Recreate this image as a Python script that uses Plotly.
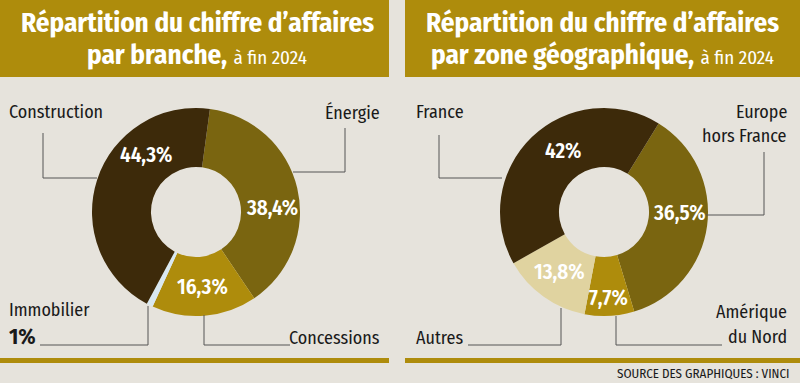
import math
import plotly.graph_objects as go

# ---- data ----
branch_labels = ["Énergie", "Concessions", "Immobilier", "Construction"]
branch_values = [38.4, 16.3, 1.0, 44.3]
branch_colors = ["#7a6510", "#ae8c0c", "#d9e8f0", "#3d2a0a"]

zone_labels = ["Europe hors France", "Amérique du Nord", "Autres", "France"]
zone_values = [36.5, 7.7, 13.8, 42.0]
zone_colors = ["#7a6510", "#ae8c0c", "#e0d3a0", "#3d2a0a"]

title_left = ("Répartition du chiffre d’affaires", "par branche,", "à fin 2024")
title_right = ("Répartition du chiffre d’affaires", "par zone géographique,", "à fin 2024")
source = "SOURCE DES GRAPHIQUES : VINCI"

FONT = "Fira Sans Condensed, PT Sans Narrow, Roboto Condensed, Asap Condensed, Sofia Sans Condensed, sans-serif"
W, H = 800, 383
BG = "#e6e3dc"
GOLD = "#ae8c0c"
R, HOLE = 104, 0.433


def fmt(v):
    return f"{v:g}".replace(".", ",") + "%"


fig = go.Figure()
ann = []


def add_donut(labels, values, colors, cx, cy, rotation, nudges, radii, hide_small=5):
    fig.add_trace(go.Pie(
        labels=labels, values=values, textinfo="none",
        marker=dict(colors=colors, line=dict(width=0)),
        hole=HOLE, sort=False, direction="clockwise", rotation=rotation,
        domain=dict(x=[(cx - R) / W, (cx + R) / W], y=[1 - (cy + R) / H, 1 - (cy - R) / H]),
        showlegend=False, hoverinfo="label+percent",
    ))
    total = sum(values)
    start = rotation
    for v, dn, rr in zip(values, nudges, radii):
        sweep = 360 * v / total
        mid = math.radians(start + sweep / 2 + dn)
        start += sweep
        if v < hide_small:
            continue
        x = cx + rr * math.sin(mid)
        y = cy - rr * math.cos(mid)
        ann.append(dict(x=x / W, y=1 - y / H, xref="paper", yref="paper", text=fmt(v),
                        showarrow=False, xanchor="center", yanchor="middle",
                        font=dict(family=FONT, size=21, color="white", weight=600)))


add_donut(branch_labels, branch_values, branch_colors, 196, 212, 7.7,
          nudges=[10, 0, 0, 31], radii=[76, 75, 75, 75])
add_donut(zone_labels, zone_values, zone_colors, 604, 212, 31.7,
          nudges=[-7, 0, 1, 10], radii=[76, 86, 75, 74])

shapes = []
# title bars and bottom rules
for x0, x1 in [(0, 389), (405, 800)]:
    shapes.append(dict(type="rect", xref="paper", yref="paper", x0=x0 / W, x1=x1 / W,
                       y0=1 - 77 / H, y1=1, fillcolor=GOLD, line=dict(width=0), layer="below"))
    shapes.append(dict(type="rect", xref="paper", yref="paper", x0=x0 / W, x1=x1 / W,
                       y0=1 - 363 / H, y1=1 - 358 / H, fillcolor=GOLD, line=dict(width=0)))

# leader lines (pixel polylines)
leaders = [
    [(43, 133), (43, 178), (97, 178)],          # Construction
    [(345, 128), (345, 172), (293, 172)],       # Énergie
    [(40, 345), (148, 345), (148, 306)],        # Immobilier
    [(290, 345), (204, 345), (204, 315)],       # Concessions
    [(439, 135), (439, 178), (502, 178)],       # France
    [(764, 152), (764, 215), (705, 215)],       # Europe
    [(722, 345), (616, 345), (616, 316)],       # Amérique
    [(468, 345), (561, 345), (561, 308)],       # Autres
]
for pts in leaders:
    path = "M " + " L ".join(f"{x / W},{1 - y / H}" for x, y in pts)
    shapes.append(dict(type="path", xref="paper", yref="paper", path=path,
                       line=dict(color="#555555", width=1)))


def text(x, y, s, size=18, anchor="left", color="#1a1a1a", bold=False, yanchor="middle"):
    ann.append(dict(x=x / W, y=1 - y / H, xref="paper", yref="paper", text=(f"<b>{s}</b>" if bold else s),
                    showarrow=False, xanchor=anchor, yanchor=yanchor,
                    font=dict(family=FONT, size=size, color=color)))


# titles
for cx, t in [(197, title_left), (602, title_right)]:
    text(cx, 23, t[0], size=27, anchor="center", color="white", bold=True)
    ann.append(dict(x=cx / W, y=1 - 55 / H, xref="paper", yref="paper",
                    text=f"<b>{t[1]}</b> <span style='font-size:19px'>{t[2]}</span>",
                    showarrow=False, xanchor="center", yanchor="middle",
                    font=dict(family=FONT, size=27, color="white")))

# callout labels
text(7, 112, branch_labels[3])
text(382, 112, branch_labels[0], anchor="right")
text(7, 310, branch_labels[2])
text(7, 336, fmt(branch_values[2]), size=22, bold=True)
text(382, 338, branch_labels[1], anchor="right")

text(414, 112, zone_labels[3])
text(789, 112, "Europe", anchor="right")
text(789, 136, "hors France", anchor="right")
text(789, 312, "Amérique", anchor="right")
text(789, 337, "du Nord", anchor="right")
text(414, 338, zone_labels[2])

text(791, 383, source, size=13, anchor="right", yanchor="bottom")

fig.update_layout(
    width=W, height=H, margin=dict(l=0, r=0, t=0, b=0),
    paper_bgcolor=BG, plot_bgcolor=BG,
    shapes=shapes, annotations=ann,
    font=dict(family=FONT),
)

fig.write_html("out.html", config={"displayModeBar": False},
               post_script="document.body.style.margin='0';document.body.style.overflow='hidden';")
